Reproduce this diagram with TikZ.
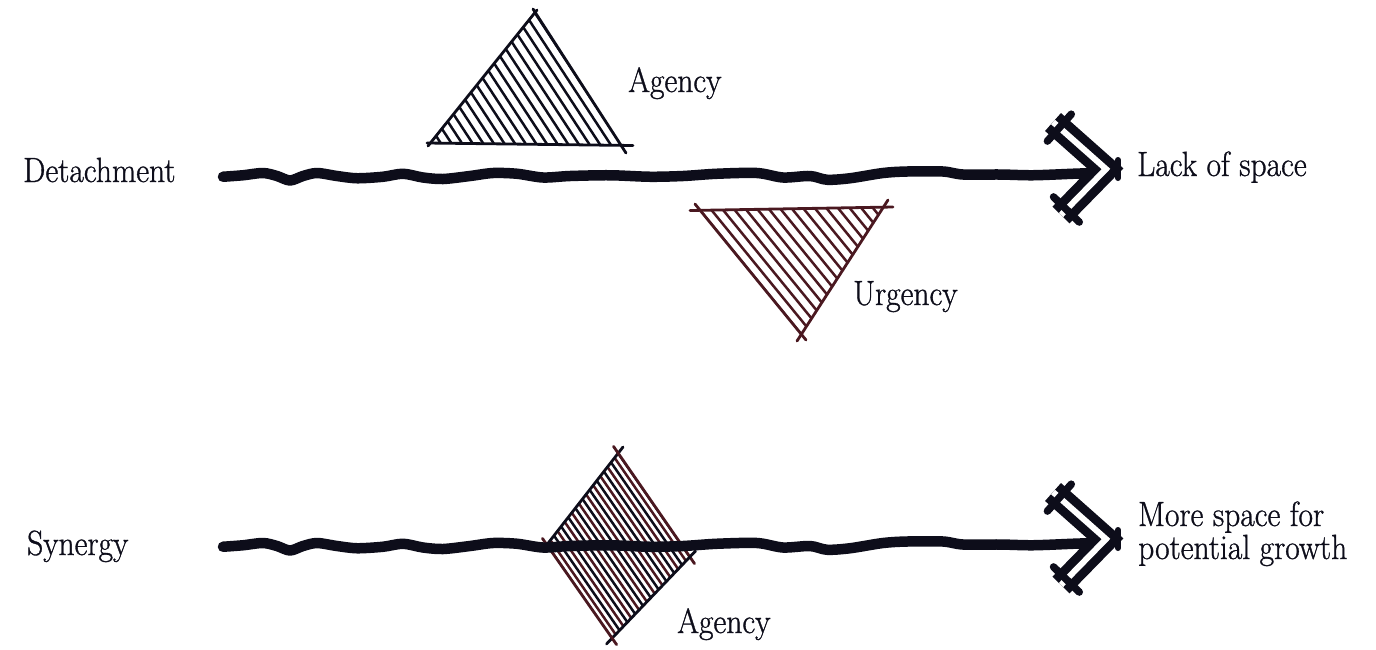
\documentclass[tikz,border=0pt]{standalone}
\usepackage{fontspec}
\usetikzlibrary{calc}
\newfontfamily\lblfont{Latin Modern Roman}[FakeBold=0.9,FakeStretch=0.9]
\definecolor{ink}{HTML}{0D0D1A}
\definecolor{wine}{HTML}{4A1820}
\begin{document}
\begin{tikzpicture}[x=1pt,y=-1pt,
  lbl/.style={font=\lblfont\fontsize{35}{31}\selectfont, inner sep=0pt, anchor=base west, text=ink},
  wave/.style={line width=10.5pt, line cap=round, line join=round, draw=ink},
  hatchline/.style={line width=2.5pt, line cap=round},
  edgeline/.style={line width=2.8pt, line cap=round},
  rail/.style={draw=ink, line width=9pt, double=white, double distance=6pt, line join=miter, line cap=butt},
  rung/.style={draw=ink, line width=7.5pt, line cap=round}
]
\useasboundingbox[fill=white] (0,0) rectangle (1376,649);

% ---------- top Agency triangle ----------
\coordinate (aP) at (535,13);
\coordinate (aQ) at (430,143);
\coordinate (aR) at (622,146);
\begin{scope}
  \clip (aP) -- (aQ) -- (aR) -- cycle;
  \foreach \i in {0,...,18}{
    \pgfmathsetmacro{\bx}{430+\i*192/18}
    \pgfmathsetmacro{\by}{143+\i*3/18}
    \draw[hatchline, ink] ({\bx-87*1.2},{\by-133*1.2}) -- ({\bx+8},{\by+12});
  }
\end{scope}
\draw[edgeline, ink] (427,143) -- (633,145.5);
\draw[edgeline, ink] (428,146) -- (537,10);
\draw[edgeline, ink] (533,9) -- (626,153);

% ---------- Urgency triangle ----------
\coordinate (uA) at (700,210);
\coordinate (uB) at (884,207);
\coordinate (uC) at (801,334);
\begin{scope}
  \clip (uA) -- (uB) -- (uC) -- cycle;
  \foreach \i in {0,...,16}{
    \pgfmathsetmacro{\bx}{700+\i*184/16}
    \pgfmathsetmacro{\by}{210-\i*3/16}
    \draw[hatchline, wine] ({\bx-10},{\by-12}) -- ({\bx+101*1.3},{\by+124*1.3});
  }
\end{scope}
\draw[edgeline, wine] (690,210.5) -- (893,207);
\draw[edgeline, wine] (695,204) -- (806,340);
\draw[edgeline, wine] (888,200) -- (797,341);

% ---------- Synergy diamond ----------
\coordinate (dT) at (618,453);
\coordinate (dR) at (690,557);
\coordinate (dB) at (612,638);
\coordinate (dL) at (547,545);
\begin{scope}
  \clip (dT) -- (dR) -- (dB) -- (dL) -- cycle;
  \foreach \i in {0,2,...,20}{
    \pgfmathsetmacro{\px}{618-71*\i/20}
    \pgfmathsetmacro{\py}{453+92*\i/20}
    \draw[hatchline, ink] ({\px-72*0.3},{\py-104*0.3}) -- ({\px+72*1.4},{\py+104*1.4});
  }
  \foreach \i in {1,3,...,19}{
    \pgfmathsetmacro{\px}{618-71*\i/20}
    \pgfmathsetmacro{\py}{453+92*\i/20}
    \draw[hatchline, wine] ({\px-72*0.3},{\py-104*0.3}) -- ({\px+72*1.4},{\py+104*1.4});
  }
\end{scope}
\draw[edgeline, ink] (623,447) -- (542,551);
\draw[edgeline, wine] (613.5,446.4) -- (694.5,563.6);
\draw[edgeline, ink] (695.5,551) -- (606.5,644);
\draw[edgeline, wine] (542.4,538.4) -- (616.6,644.6);

% ---------- the two lines with their arrowheads ----------
\foreach \dy/\nm in {0/t,370/b}{
  \begin{scope}[shift={(0,\dy)}]
    \begin{scope}[shift={(0,176)}, yscale=0.75, shift={(0,-176)}]
    \draw[wave] plot[smooth, tension=0.5] coordinates {
      (223,177) (243,175) (263,172) (277,176) (290,182) (303,176) (317,172)
      (337,176) (357,179) (383,177) (403,173) (423,178) (443,180) (470,176)
      (493,172) (517,173) (543,178) (570,176) (610,175) (650,177) (683,176)
      (717,173) (757,172) (783,178) (810,176) (827,181) (850,179) (883,172)
      (907,170) (943,170) (963,174) (1000,174) (1033,175) (1073,173) (1094,172)};
    \end{scope}
    \coordinate (\nm U) at (1053,122);
    \coordinate (\nm T) at (1106,169);
    \coordinate (\nm L) at (1061,215);
    \draw[rail] (\nm U) -- (\nm T) -- (\nm L);
    \coordinate (\nm cu) at ($(\nm U)!0.12!(\nm T)$);
    \coordinate (\nm cl) at ($(\nm L)!0.12!(\nm T)$);
    \draw[rung] ($(\nm cu)!18pt!90:(\nm T)$) -- ($(\nm cu)!18pt!-90:(\nm T)$);
    \draw[rung] ($(\nm cl)!18pt!90:(\nm T)$) -- ($(\nm cl)!18pt!-90:(\nm T)$);
    \draw[rung, line width=6pt] ($(\nm T)+(12,-9)$) -- ($(\nm T)+(12,9)$);
  \end{scope}
}

% ---------- labels ----------
\node[lbl] (detach) at (23,182) {Detachment};
\node[lbl] (agency1) at (628,92) {Agency};
\node[lbl] (lack) at (1137,176) {Lack of space};
\node[lbl] (urgency) at (853,305) {Urgency};
\node[lbl] (synergy) at (27,555) {Synergy};
\node[lbl, text depth=0pt] (more) at (1138,526) {More space for};
\node[lbl] (potential) at (1138,559) {potential growth};
\node[lbl] (agency2) at (677,633) {Agency};
\end{tikzpicture}
\end{document}
